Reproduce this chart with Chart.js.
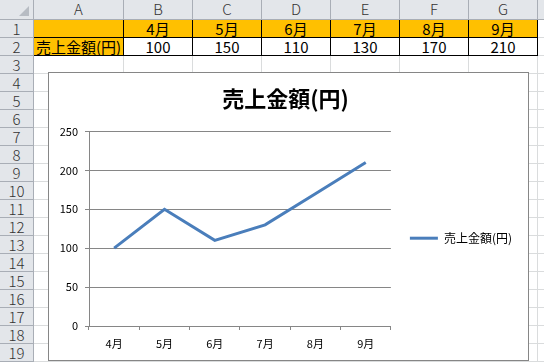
<!DOCTYPE html>
<html>
<head>
<meta charset="utf-8">
<script src="https://cdn.jsdelivr.net/npm/chart.js@4.4.1/dist/chart.umd.min.js"></script>
<style>
  html, body { margin: 0; padding: 0; background: #fff; }
  body { width: 544px; height: 364px; overflow: hidden; position: relative; font-family: "Noto Sans CJK JP", sans-serif; }
  .c { position: absolute; box-sizing: border-box; border-right: 1px solid #dadcdd; border-bottom: 1px solid #dadcdd;
       font-size: 15px; line-height: 17px; text-align: center; white-space: nowrap; overflow: hidden; color: #000; }
  .h { background: #e3e6ea; border-right-color: #a9aeb6; border-bottom-color: #a9aeb6; color: #333; font-weight: 300; }
  .t { border-right-color: #000; border-bottom-color: #000; }
  .o { background: #ffc000; }
  .corner { position: absolute; left: 19px; top: 6px; width: 0; height: 0;
            border-left: 10px solid transparent; border-bottom: 10px solid #b7bcc3; }
  #box { position: absolute; left: 48px; top: 72px; width: 481px; height: 289px; box-sizing: border-box;
         border: 1px solid #868686; background: #fff; }
  #wrap { position: relative; width: 479px; height: 287px; }
</style>
</head>
<body>
<div id="sheet"></div>
<div id="box"><div id="wrap"><canvas id="salesChart"></canvas></div></div>
<script>
// データ
const columnLetters = ['A', 'B', 'C', 'D', 'E', 'F', 'G'];
const categories = ['4月', '5月', '6月', '7月', '8月', '9月'];
const sales = [100, 150, 110, 130, 170, 210];
const seriesName = '売上金額(円)';
const yTicks = [0, 50, 100, 150, 200, 250];

// シートのグリッド
const colEdges = [0, 34, 124, 193, 262, 331, 400, 469, 538, 560];
const rowTop = n => (n === 0 ? 0 : 20 + 18 * (n - 1));
const rowH = n => (n === 0 ? 20 : 18);
const sheet = document.getElementById('sheet');

function cell(col, row, cls, text) {
    const d = document.createElement('div');
    d.className = 'c ' + cls;
    d.style.left = colEdges[col] + 'px';
    d.style.top = rowTop(row) + 'px';
    d.style.width = (colEdges[col + 1] - colEdges[col]) + 'px';
    d.style.height = rowH(row) + 'px';
    if (text !== undefined) d.textContent = text;
    sheet.appendChild(d);
    return d;
}

for (let r = 0; r <= 19; r++) {
    for (let c = 0; c < colEdges.length - 1; c++) {
        if (r === 0 && c === 0) { cell(0, 0, 'h'); continue; }
        if (r === 0) { cell(c, 0, 'h', columnLetters[c - 1] || ''); continue; }
        if (c === 0) { cell(0, r, 'h', String(r)); continue; }
        if (r === 1 && c <= 7) { cell(c, r, 't o', c === 1 ? '' : categories[c - 2]); continue; }
        if (r === 2 && c === 1) { const d = cell(c, r, 't o', seriesName); d.style.textAlign = 'left'; d.style.paddingLeft = '2px'; continue; }
        if (r === 2 && c <= 7) { cell(c, r, 't', String(sales[c - 2])); continue; }
        cell(c, r, '');
    }
}
const corner = document.createElement('div');
corner.className = 'corner';
sheet.appendChild(corner);

// チャート
const font = { family: '"Noto Sans CJK JP", sans-serif', size: 11 };
const gray = '#868686';
let salesChart = null;

function initChart() {
    if (salesChart) return;
    const ctx = document.getElementById('salesChart').getContext('2d');
    salesChart = new Chart(ctx, {
        type: 'line',
        data: {
            labels: categories,
            datasets: [{
                label: seriesName,
                data: sales,
                borderColor: '#4a7ebb',
                backgroundColor: '#4a7ebb',
                borderWidth: 3,
                pointRadius: 0,
                tension: 0,
                fill: false
            }]
        },
        options: {
            responsive: true,
            maintainAspectRatio: false,
            animation: false,
            layout: { padding: { right: 6 } },
            plugins: {
                title: {
                    display: true,
                    text: seriesName,
                    color: '#000',
                    font: { family: font.family, size: 22, weight: 'bold' },
                    padding: { top: 12, bottom: 20 }
                },
                legend: {
                    position: 'right',
                    maxWidth: 200,
                    title: { display: true, text: '', font: { size: 12 }, padding: { top: 29, bottom: 0 } },
                    labels: {
                        usePointStyle: true,
                        pointStyle: 'line',
                        pointStyleWidth: 28,
                        padding: 19,
                        color: '#000',
                        font: { family: font.family, size: 12 }
                    }
                },
                tooltip: { enabled: false }
            },
            scales: {
                x: {
                    offset: true,
                    grid: { offset: true, drawOnChartArea: false, drawTicks: true, tickLength: 4, color: gray },
                    border: { color: gray },
                    ticks: { color: '#000', font: font, padding: 7, maxRotation: 0 },
                    afterFit(scale) { scale.height = 34; }
                },
                y: {
                    min: yTicks[0],
                    max: yTicks[yTicks.length - 1],
                    grid: { color: gray, tickLength: 4 },
                    border: { color: gray },
                    ticks: { stepSize: yTicks[1] - yTicks[0], color: '#000', font: font, padding: 7 },
                    afterFit(scale) { scale.width = 40; }
                }
            }
        }
    });
}

// フォント読み込み後に描画
Promise.all([
    document.fonts.load('12px "Noto Sans CJK JP"', seriesName + categories.join('')),
    document.fonts.load('bold 22px "Noto Sans CJK JP"', seriesName)
]).then(initChart, initChart);
setTimeout(initChart, 800);
</script>
</body>
</html>
